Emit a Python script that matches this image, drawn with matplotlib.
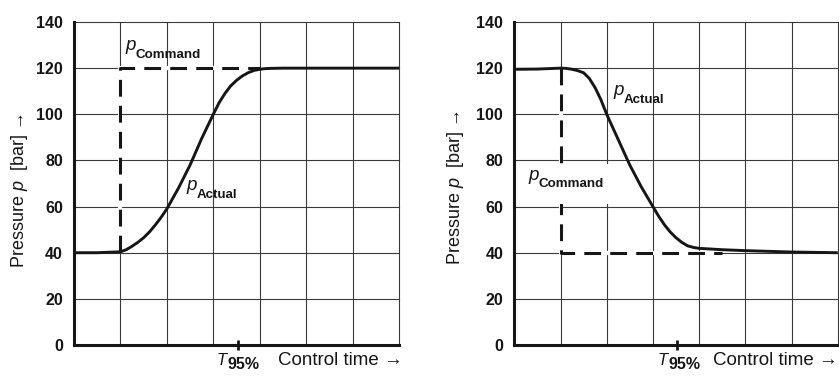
import matplotlib
matplotlib.use("Agg")
import matplotlib.pyplot as plt
from matplotlib.patches import Rectangle

# ---- data -------------------------------------------------------------
# Pressure build-up (left) and pressure reduction (right), bar vs. time divisions
t_up = [0, 0.5, 1.0, 1.125, 1.25, 1.375, 1.5, 1.625, 1.75, 1.875, 2.0, 2.25,
        2.5, 2.75, 3.0, 3.125, 3.25, 3.375, 3.5, 3.625, 3.75, 3.875, 4.0,
        4.125, 4.25, 4.5, 5, 6, 7]
p_up = [40, 40, 40.4, 41.3, 42.8, 44.5, 46.5, 49, 52, 55.3, 59, 68,
        78, 89.5, 100, 105, 109, 112.3, 114.7, 116.6, 118, 119, 119.5,
        119.8, 119.9, 120, 120, 120, 120]

t_down = [0, 0.5, 1.0, 1.125, 1.25, 1.375, 1.5, 1.625, 1.75, 1.875, 2.0,
          2.25, 2.5, 2.75, 3.0, 3.125, 3.25, 3.375, 3.5, 3.625, 3.75, 3.875,
          4.0, 4.5, 5, 5.5, 6, 7]
p_down = [119.5, 119.6, 120, 119.9, 119.5, 118.9, 118, 115.5, 111.5, 106.3,
          100, 89, 78, 68.5, 60, 55.8, 52.1, 49, 46.5, 44.5, 43, 42.3,
          41.9, 41.3, 40.9, 40.6, 40.3, 40]

# Command step (dashed)
cmd_up_t = [1, 1, 4]
cmd_up_p = [40.5, 120, 120]
cmd_down_t = [1, 1, 4.5]
cmd_down_p = [120, 40, 40]

t95_up = 3.53
t95_down = 3.52

y_ticks = [0, 20, 40, 60, 80, 100, 120, 140]
x_grid = [1, 2, 3, 4, 5, 6, 7]

# ---- style ------------------------------------------------------------
plt.rcParams["font.family"] = ["Liberation Sans", "DejaVu Sans"]
plt.rcParams["mathtext.fontset"] = "custom"
plt.rcParams["mathtext.rm"] = "Liberation Sans"
plt.rcParams["mathtext.it"] = "Liberation Sans:italic"
plt.rcParams["mathtext.bf"] = "Liberation Sans:bold"

INK = "#161616"
GRID = "#3a3a3a"

fig = plt.figure(figsize=(8.39, 3.78), dpi=100)
ax1 = fig.add_axes([74 / 839, 33 / 378, 325 / 839, 323 / 378])
ax2 = fig.add_axes([514.3 / 839, 33 / 378, 323.4 / 839, 323 / 378])


def frame(ax, t95):
    ax.set_xlim(0, 7)
    ax.set_ylim(0, 140)
    for yv in y_ticks[1:]:
        ax.axhline(yv, color=GRID, lw=0.8, zorder=1, clip_on=False)
    for xv in x_grid:
        ax.axvline(xv, color=GRID, lw=0.8, zorder=1, clip_on=False)
    ax.set_yticks(y_ticks)
    ax.set_yticklabels([str(v) for v in y_ticks], fontweight="bold",
                       fontsize=11.5, color=INK)
    ax.tick_params(axis="y", length=0, pad=8)
    ax.set_xticks([t95])
    ax.set_xticklabels([""])
    ax.tick_params(axis="x", length=7, width=2.0, direction="inout",
                   color=INK)
    for s in ("top", "right"):
        ax.spines[s].set_visible(False)
    for s in ("left", "bottom"):
        ax.spines[s].set_linewidth(2.2)
        ax.spines[s].set_color(INK)
        ax.spines[s].set_zorder(4)


def sub_label(ax, x, y, main, sub, size_main=13.5, size_sub=9.6, drop=2.3,
              coords="data", offset=(0, 0)):
    t = ax.annotate(main, xy=(x, y), xycoords=coords, xytext=offset,
                    textcoords="offset points", fontsize=size_main,
                    fontstyle="italic", ha="left", va="baseline",
                    color=INK, zorder=6, annotation_clip=False)
    ax.annotate(sub, xy=(1, 0), xycoords=t, xytext=(0, -drop),
                textcoords="offset points", fontsize=size_sub,
                fontweight="bold", ha="left", va="baseline", color=INK,
                zorder=6, annotation_clip=False)


def time_axis_text(ax, x_t95, x_ctrl):
    sub_label(ax, x_t95, 0, "T", "95%", size_main=12, size_sub=11.5,
              drop=0.4, coords=("data", "axes fraction"), offset=(0, -14.4))
    ax.annotate("Control time \u2192", xy=(x_ctrl, 0),
                xycoords=("data", "axes fraction"), xytext=(0, -14.4),
                textcoords="offset points", fontsize=13.5, ha="left",
                va="baseline", color=INK, annotation_clip=False)


# ---- left: pressure build-up -----------------------------------------
frame(ax1, t95_up)
ax1.plot(cmd_up_t, cmd_up_p, color="white", lw=3.0, zorder=1.5,
         solid_capstyle="butt")
ax1.plot(cmd_up_t, cmd_up_p, color=INK, lw=2.2, ls=(0, (5.5, 3.0)),
         dash_capstyle="butt", zorder=2)
ax1.plot(t_up, p_up, color=INK, lw=2.1, zorder=3, solid_joinstyle="round",
         solid_capstyle="butt")
sub_label(ax1, 1.10, 127.7, "p", "Command")
sub_label(ax1, 2.42, 67.0, "p", "Actual")
time_axis_text(ax1, 3.08, 4.39)

# ---- right: pressure reduction ---------------------------------------
frame(ax2, t95_down)
ax2.plot(cmd_down_t, cmd_down_p, color="white", lw=3.0, zorder=1.5,
         solid_capstyle="butt")
ax2.plot(cmd_down_t, cmd_down_p, color=INK, lw=2.2, ls=(0, (5.5, 3.0)),
         dash_capstyle="butt", zorder=2)
# clear space behind the command label
ax2.add_patch(Rectangle((0.08, 61), 2.02, 17.5, facecolor="white",
                        edgecolor="none", zorder=2.5))
ax2.plot(t_down, p_down, color=INK, lw=2.1, zorder=3,
         solid_joinstyle="round", solid_capstyle="butt")
sub_label(ax2, 0.30, 71.4, "p", "Command")
sub_label(ax2, 2.14, 108.2, "p", "Actual")
time_axis_text(ax2, 3.11, 4.30)

# ---- y-axis titles ---------------------------------------------------
ylabel = "Pressure $\\mathit{p}$  [bar] \u2192"
fig.text(20 / 839, (378 - 190.5) / 378, ylabel, rotation=90, ha="center",
         va="center", fontsize=13, color=INK)
fig.text(455 / 839, (378 - 187.5) / 378, ylabel, rotation=90, ha="center",
         va="center", fontsize=13, color=INK)

fig.savefig("out.png", dpi=100, facecolor="white")
